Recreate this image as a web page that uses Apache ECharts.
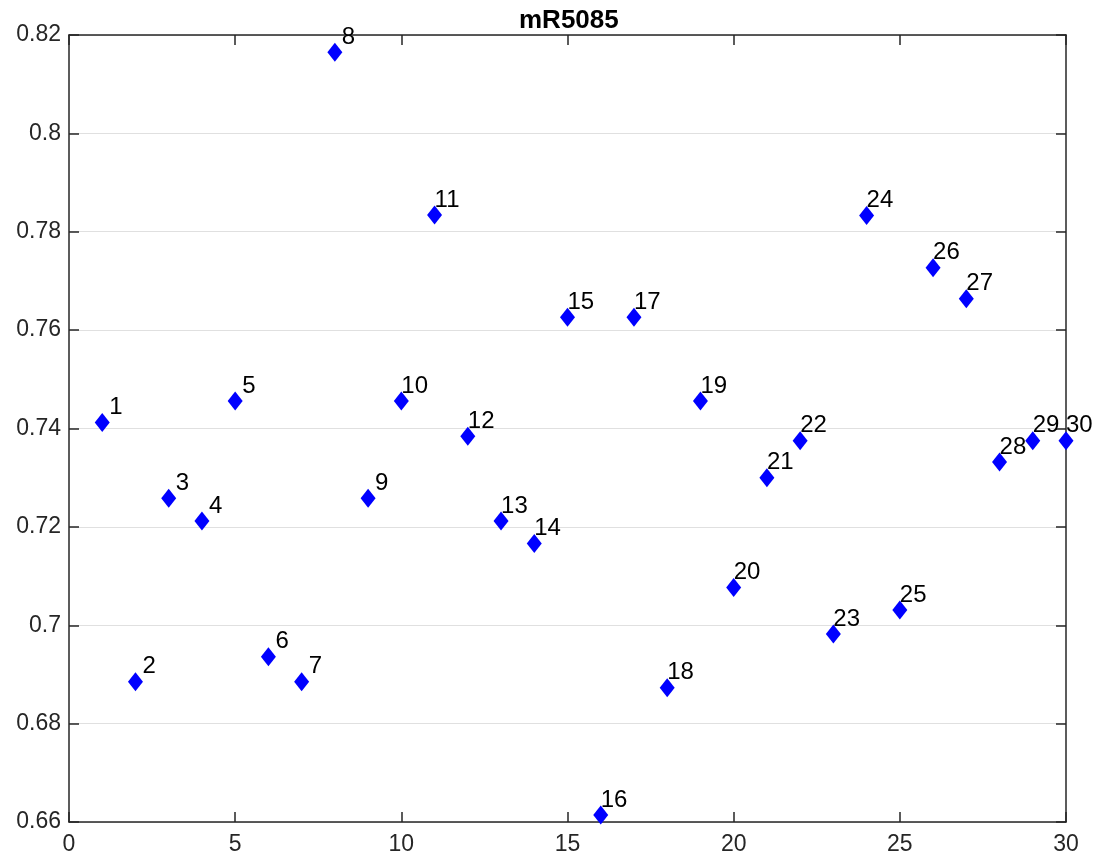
<!DOCTYPE html>
<html>
<head>
<meta charset="utf-8">
<script src="https://cdn.jsdelivr.net/npm/echarts@6/dist/echarts.min.js"></script>
<style>html,body{margin:0;padding:0;background:#fff;}#c{width:1102px;height:865px;}</style>
</head>
<body>
<div id="c"></div>
<script>
const titleText = 'mR5085';
const xValues = [1,2,3,4,5,6,7,8,9,10,11,12,13,14,15,16,17,18,19,20,21,22,23,24,25,26,27,28,29,30];
const yValues = [0.7412,0.6885,0.7258,0.7212,0.7456,0.6936,0.6885,0.8165,0.7258,0.7456,
                 0.7834,0.7384,0.7212,0.7166,0.7626,0.6614,0.7626,0.6873,0.7456,0.7077,
                 0.7300,0.7375,0.6982,0.7833,0.7031,0.7727,0.7664,0.7332,0.7375,0.7375];
const xTicks = {min: 0, max: 30, interval: 5};
const yTicks = {min: 0.66, max: 0.82, interval: 0.02};

const FONT = "Arial, 'Liberation Sans', sans-serif";
const AXC = '#262626';
const chart = echarts.init(document.getElementById('c'), null, {renderer: 'canvas'});
const data = xValues.map((x, i) => ({
  value: [x, yValues[i]],
  label: {offset: [x < 10 ? 7 : 0, -15]}
}));
const boxAxis = () => ({
  axisLine: {show: true, onZero: false, lineStyle: {color: AXC, width: 1.5}},
  axisTick: {show: true, inside: true, length: 10, lineStyle: {color: AXC, width: 1.5}},
});
chart.setOption({
  animation: false,
  backgroundColor: '#fff',
  title: {text: titleText, left: 514, top: 3,
    textStyle: {fontFamily: FONT, fontWeight: 'bold', fontSize: 26, color: '#000'}},
  grid: {left: 69, right: 36, top: 35, bottom: 43, containLabel: false},
  xAxis: [
    Object.assign({type: 'value', position: 'bottom', min: xTicks.min, max: xTicks.max, interval: xTicks.interval,
      splitLine: {show: false},
      axisLabel: {fontFamily: FONT, fontSize: 23, color: AXC, margin: 11}}, boxAxis()),
    Object.assign({type: 'value', position: 'top', min: xTicks.min, max: xTicks.max, interval: xTicks.interval,
      splitLine: {show: false}, axisLabel: {show: false}}, boxAxis())
  ],
  yAxis: [
    Object.assign({type: 'value', position: 'left', min: yTicks.min, max: yTicks.max, interval: yTicks.interval,
      splitLine: {show: true, lineStyle: {color: '#e0e0e0', width: 1.2}},
      axisLabel: {fontFamily: FONT, fontSize: 23, color: AXC, margin: 8}}, boxAxis()),
    Object.assign({type: 'value', position: 'right', min: yTicks.min, max: yTicks.max, interval: yTicks.interval,
      splitLine: {show: false}, axisLabel: {show: false}}, boxAxis())
  ],
  series: [{
    type: 'scatter',
    xAxisIndex: 0, yAxisIndex: 0,
    data: data,
    symbol: 'diamond',
    symbolSize: [15, 19],
    itemStyle: {color: '#0000ff', opacity: 1},
    label: {
      show: true,
      position: 'inside',
      align: 'left',
      verticalAlign: 'middle',
      fontFamily: FONT,
      fontSize: 24,
      color: '#000',
      formatter: p => String(p.value[0])
    },
    z: 5
  }]
});
</script>
</body>
</html>
